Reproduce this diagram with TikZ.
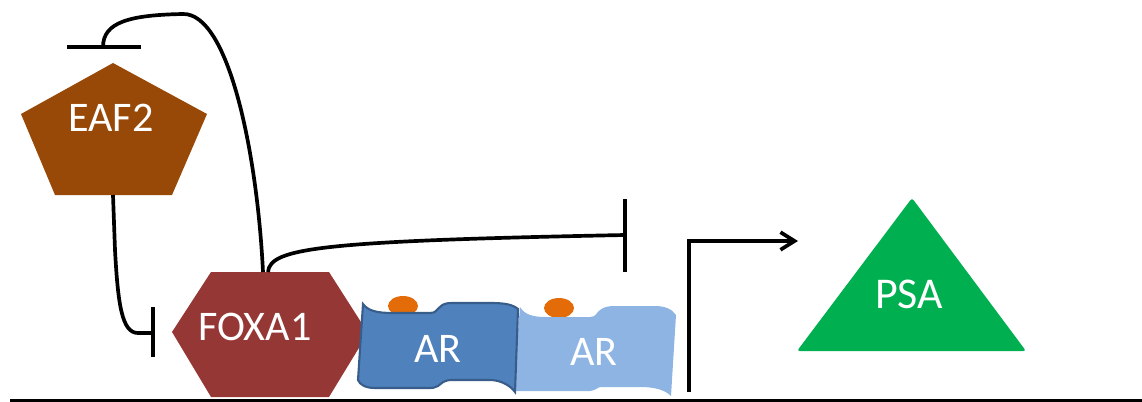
\documentclass[tikz,border=0pt]{standalone}
\usepackage{fontspec}
\setmainfont{Carlito}
\usetikzlibrary{arrows.meta}
\definecolor{eafc}{HTML}{984807}
\definecolor{foxc}{HTML}{953735}
\definecolor{arone}{HTML}{4F81BD}
\definecolor{aroneb}{HTML}{385D8A}
\definecolor{artwo}{HTML}{8EB4E3}
\definecolor{dotc}{HTML}{E36C09}
\definecolor{psac}{HTML}{00B050}
\begin{document}
\begin{tikzpicture}[x=0.02cm,y=-0.02cm,
  conn/.style={line width=2.1pt},
  lbl/.style={text=white, font=\fontsize{24}{28}\selectfont, anchor=base, inner sep=0pt}]
\useasboundingbox (0,0) rectangle (1142,402);
% shapes
\fill[eafc] (113,63) -- (207,114) -- (172,195) -- (55,195) -- (21,114) -- cycle;
\fill[foxc] (211,272) -- (329,272) -- (368,333) -- (329,397) -- (211,397) -- (172,332) -- cycle;
\fill[dotc] (403,306) ellipse [x radius=15, y radius=10];
\fill[dotc] (559,308) ellipse [x radius=15, y radius=10];
\fill[artwo] (520,307) .. controls (524,314) and (532,317) .. (545,317) -- (590,317) .. controls (596,317) and (596,313) .. (600,310) .. controls (604,307) and (608,306) .. (615,306) -- (655,306) .. controls (665,306) and (672,309) .. (676,315) -- (671,396) .. controls (665,390) and (655,387) .. (640,387) -- (602,387) .. controls (597,387) and (597,390) .. (590,391) -- (580,391) .. controls (555,391) and (525,391) .. (513,391) -- cycle;
\filldraw[fill=arone, draw=aroneb, line width=1.2pt] (363,304) .. controls (368,311) and (378,313) .. (392,313) -- (430,313) .. controls (436,313) and (436,310) .. (440,307) .. controls (443,304) and (446,303) .. (452,303) -- (490,303) .. controls (503,303) and (512,304) .. (518,309) -- (515,392) .. controls (510,385) and (500,380) .. (490,380) -- (452,380) .. controls (444,380) and (442,383) .. (438,386) .. controls (435,388) and (432,388) .. (428,388) -- (375,388) .. controls (366,388) and (360,385) .. (358,380) -- cycle;
\fill[psac, rounded corners=1.5pt] (912,198) -- (1026,351) -- (797,351) -- cycle;
% labels
\node[lbl] (eaf) at (111,132) {EAF2};
\node[lbl] (fox) at (255,340) {FOXA1};
\node[lbl] (arA) at (438,362) {AR};
\node[lbl] (arB) at (594,365) {AR};
\node[lbl, font=\fontsize{25}{29}\selectfont] (psa) at (909,308) {PSA};
% connection points
\coordinate (barAL) at (67,47);
\coordinate (barAR) at (141,47);
\coordinate (barAM) at (103,47);
\coordinate (foxTopA) at (263,272);
\coordinate (foxTopB) at (268,272);
\coordinate (eafBot) at (113,195);
\coordinate (barBT) at (153,307);
\coordinate (barBB) at (153,357);
\coordinate (barBM) at (153,333);
\coordinate (barCT) at (625,199);
\coordinate (barCB) at (625,272);
\coordinate (barCM) at (625,235);
\coordinate (promBot) at (689,392);
\coordinate (promTop) at (689,241);
\coordinate (promEnd) at (798,241);
\coordinate (baseL) at (10,400.5);
\coordinate (baseR) at (1142,400.5);
% connectors
\draw[conn] (barAL) -- (barAR);
\draw[conn] (barAM) .. controls (103,22) and (130,15) .. (183,14) .. controls (228,13) and (257,150) .. (foxTopA);
\draw[conn] (eafBot) -- (115,250) .. controls (118,305) and (122,333) .. (138,333) -- (barBM);
\draw[conn] (barBT) -- (barBB);
\draw[conn] (foxTopB) .. controls (270,248) and (320,241) .. (barCM);
\draw[conn] (barCT) -- (barCB);
\draw[conn, -{Straight Barb[length=8pt,width=10pt]}] (promBot) -- (promTop) -- (promEnd);
\draw[line width=1.8pt, black] (baseL) -- (baseR);
\end{tikzpicture}
\end{document}
